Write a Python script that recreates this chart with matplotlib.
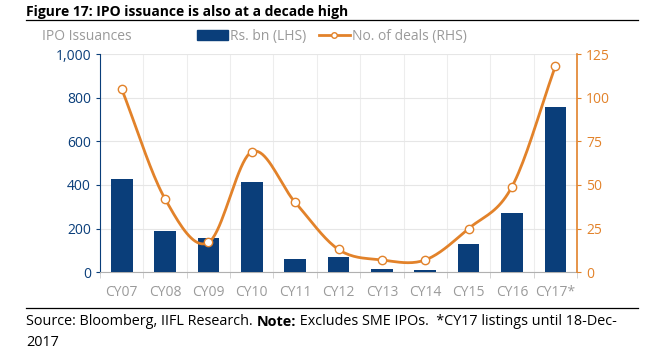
import numpy as np
import matplotlib.pyplot as plt
from matplotlib.lines import Line2D
from matplotlib.patches import Patch

plt.rcParams['font.family'] = ['Open Sans', 'DejaVu Sans']

# Data
years = ["CY07", "CY08", "CY09", "CY10", "CY11", "CY12", "CY13", "CY14", "CY15", "CY16", "CY17*"]
amount_bn = [425, 188, 156, 415, 60, 68, 15, 12, 130, 272, 756]
deals = [105, 42, 17, 69, 40, 13, 7, 7, 25, 49, 118]

navy = "#0a3e7a"
orange = "#e2822a"
grey_txt = "#9a9a9a"


def smooth(xs, ys, n=20):
    # Catmull-Rom curve through the data points (for the smoothed line look)
    xs = np.asarray(xs, float)
    ys = np.asarray(ys, float)
    px = np.concatenate([[2 * xs[0] - xs[1]], xs, [2 * xs[-1] - xs[-2]]])
    py = np.concatenate([[2 * ys[0] - ys[1]], ys, [2 * ys[-1] - ys[-2]]])
    out_x, out_y = [], []
    t = np.linspace(0, 1, n, endpoint=False)
    for i in range(1, len(px) - 2):
        for p, o in ((px, out_x), (py, out_y)):
            p0, p1, p2, p3 = p[i - 1], p[i], p[i + 1], p[i + 2]
            o.extend(0.5 * (2 * p1 + (-p0 + p2) * t + (2 * p0 - 5 * p1 + 4 * p2 - p3) * t ** 2
                            + (-p0 + 3 * p1 - 3 * p2 + p3) * t ** 3))
    out_x.append(xs[-1])
    out_y.append(ys[-1])
    return np.array(out_x), np.array(out_y)


fig = plt.figure(figsize=(6.71, 3.53), dpi=100)
ax = fig.add_axes([0.149, 0.229, 0.711, 0.618])
x = np.arange(len(years))

ax.bar(x, amount_bn, width=0.5, color=navy, zorder=3)
ax.set_ylim(0, 1000)
ax.set_xlim(-0.5, len(years) - 0.5)
ax.set_yticks(range(0, 1001, 200))
ax.set_yticklabels([f"{v:,}" for v in range(0, 1001, 200)])
ax.tick_params(axis='y', colors=navy, labelsize=10, length=3, width=0.8)
ax.set_xticks(x)
ax.set_xticklabels(years)
ax.set_xticks(np.arange(-0.5, len(years), 1), minor=True)
ax.tick_params(axis='x', which='major', length=0, labelsize=10, labelcolor=grey_txt, pad=9)
ax.tick_params(axis='x', which='minor', length=4, color="#cccccc")
ax.grid(axis='y', color="#e6e6e6", linewidth=0.8, zorder=0)
ax.grid(axis='x', which='minor', color="#ededed", linewidth=0.8, zorder=0)
for s in ("top", "right"):
    ax.spines[s].set_visible(False)
ax.spines["left"].set_color(navy)
ax.spines["bottom"].set_color("#b0b0b0")

ax2 = ax.twinx()
sx, sy = smooth(x, deals)
ax2.plot(sx, sy, color=orange, linewidth=2, zorder=4)
ax2.plot(x, deals, linestyle="none", marker="o", markersize=6,
         markerfacecolor="white", markeredgecolor=orange, markeredgewidth=1, zorder=5)
ax2.set_ylim(0, 125)
ax2.set_yticks(range(0, 126, 25))
ax2.tick_params(axis='y', colors=orange, labelsize=10, length=3, width=0.8)
for s in ("top", "left", "bottom"):
    ax2.spines[s].set_visible(False)
ax2.spines["right"].set_color(orange)
ax2.spines["right"].set_linewidth(1.2)

# Title and rules
x0 = 0.039
fig.text(x0, 0.966, "Figure 17: IPO issuance is also at a decade high",
         fontsize=10, fontweight="bold", va="center")
fig.add_artist(Line2D([x0, 0.951], [0.943, 0.943], color="black", linewidth=0.9))
fig.text(0.063, 0.898, "IPO Issuances", fontsize=10, color=grey_txt, va="center")

handles = [Patch(color=navy),
           Line2D([], [], color=orange, linewidth=2, marker="o", markersize=4,
                  markerfacecolor="white", markeredgecolor=orange)]
fig.legend(handles, ["Rs. bn (LHS)", "No. of deals (RHS)"], loc="center",
           bbox_to_anchor=(0.495, 0.898), ncol=2, frameon=False, fontsize=10,
           labelcolor=grey_txt, handlelength=2.2, handletextpad=0.2, columnspacing=0.9)

# Footer
fs = 10.4
fig.add_artist(Line2D([x0, 0.951], [0.1275, 0.1275], color="black", linewidth=0.9))
t1 = fig.text(x0, 0.088, "Source: Bloomberg, IIFL Research. ", fontsize=fs, va="center")
fig.text(x0, 0.031, "2017", fontsize=fs, va="center")
fig.canvas.draw()
r = fig.canvas.get_renderer()
bb = t1.get_window_extent(r)
t2 = fig.text(bb.x1 / fig.bbox.width, 0.088, "Note:", fontsize=fs, fontweight="bold", va="center")
bb2 = t2.get_window_extent(r)
fig.text(bb2.x1 / fig.bbox.width, 0.088, " Excludes SME IPOs.  *CY17 listings until 18-Dec-",
         fontsize=fs, va="center")

fig.savefig("out.png", dpi=100)
